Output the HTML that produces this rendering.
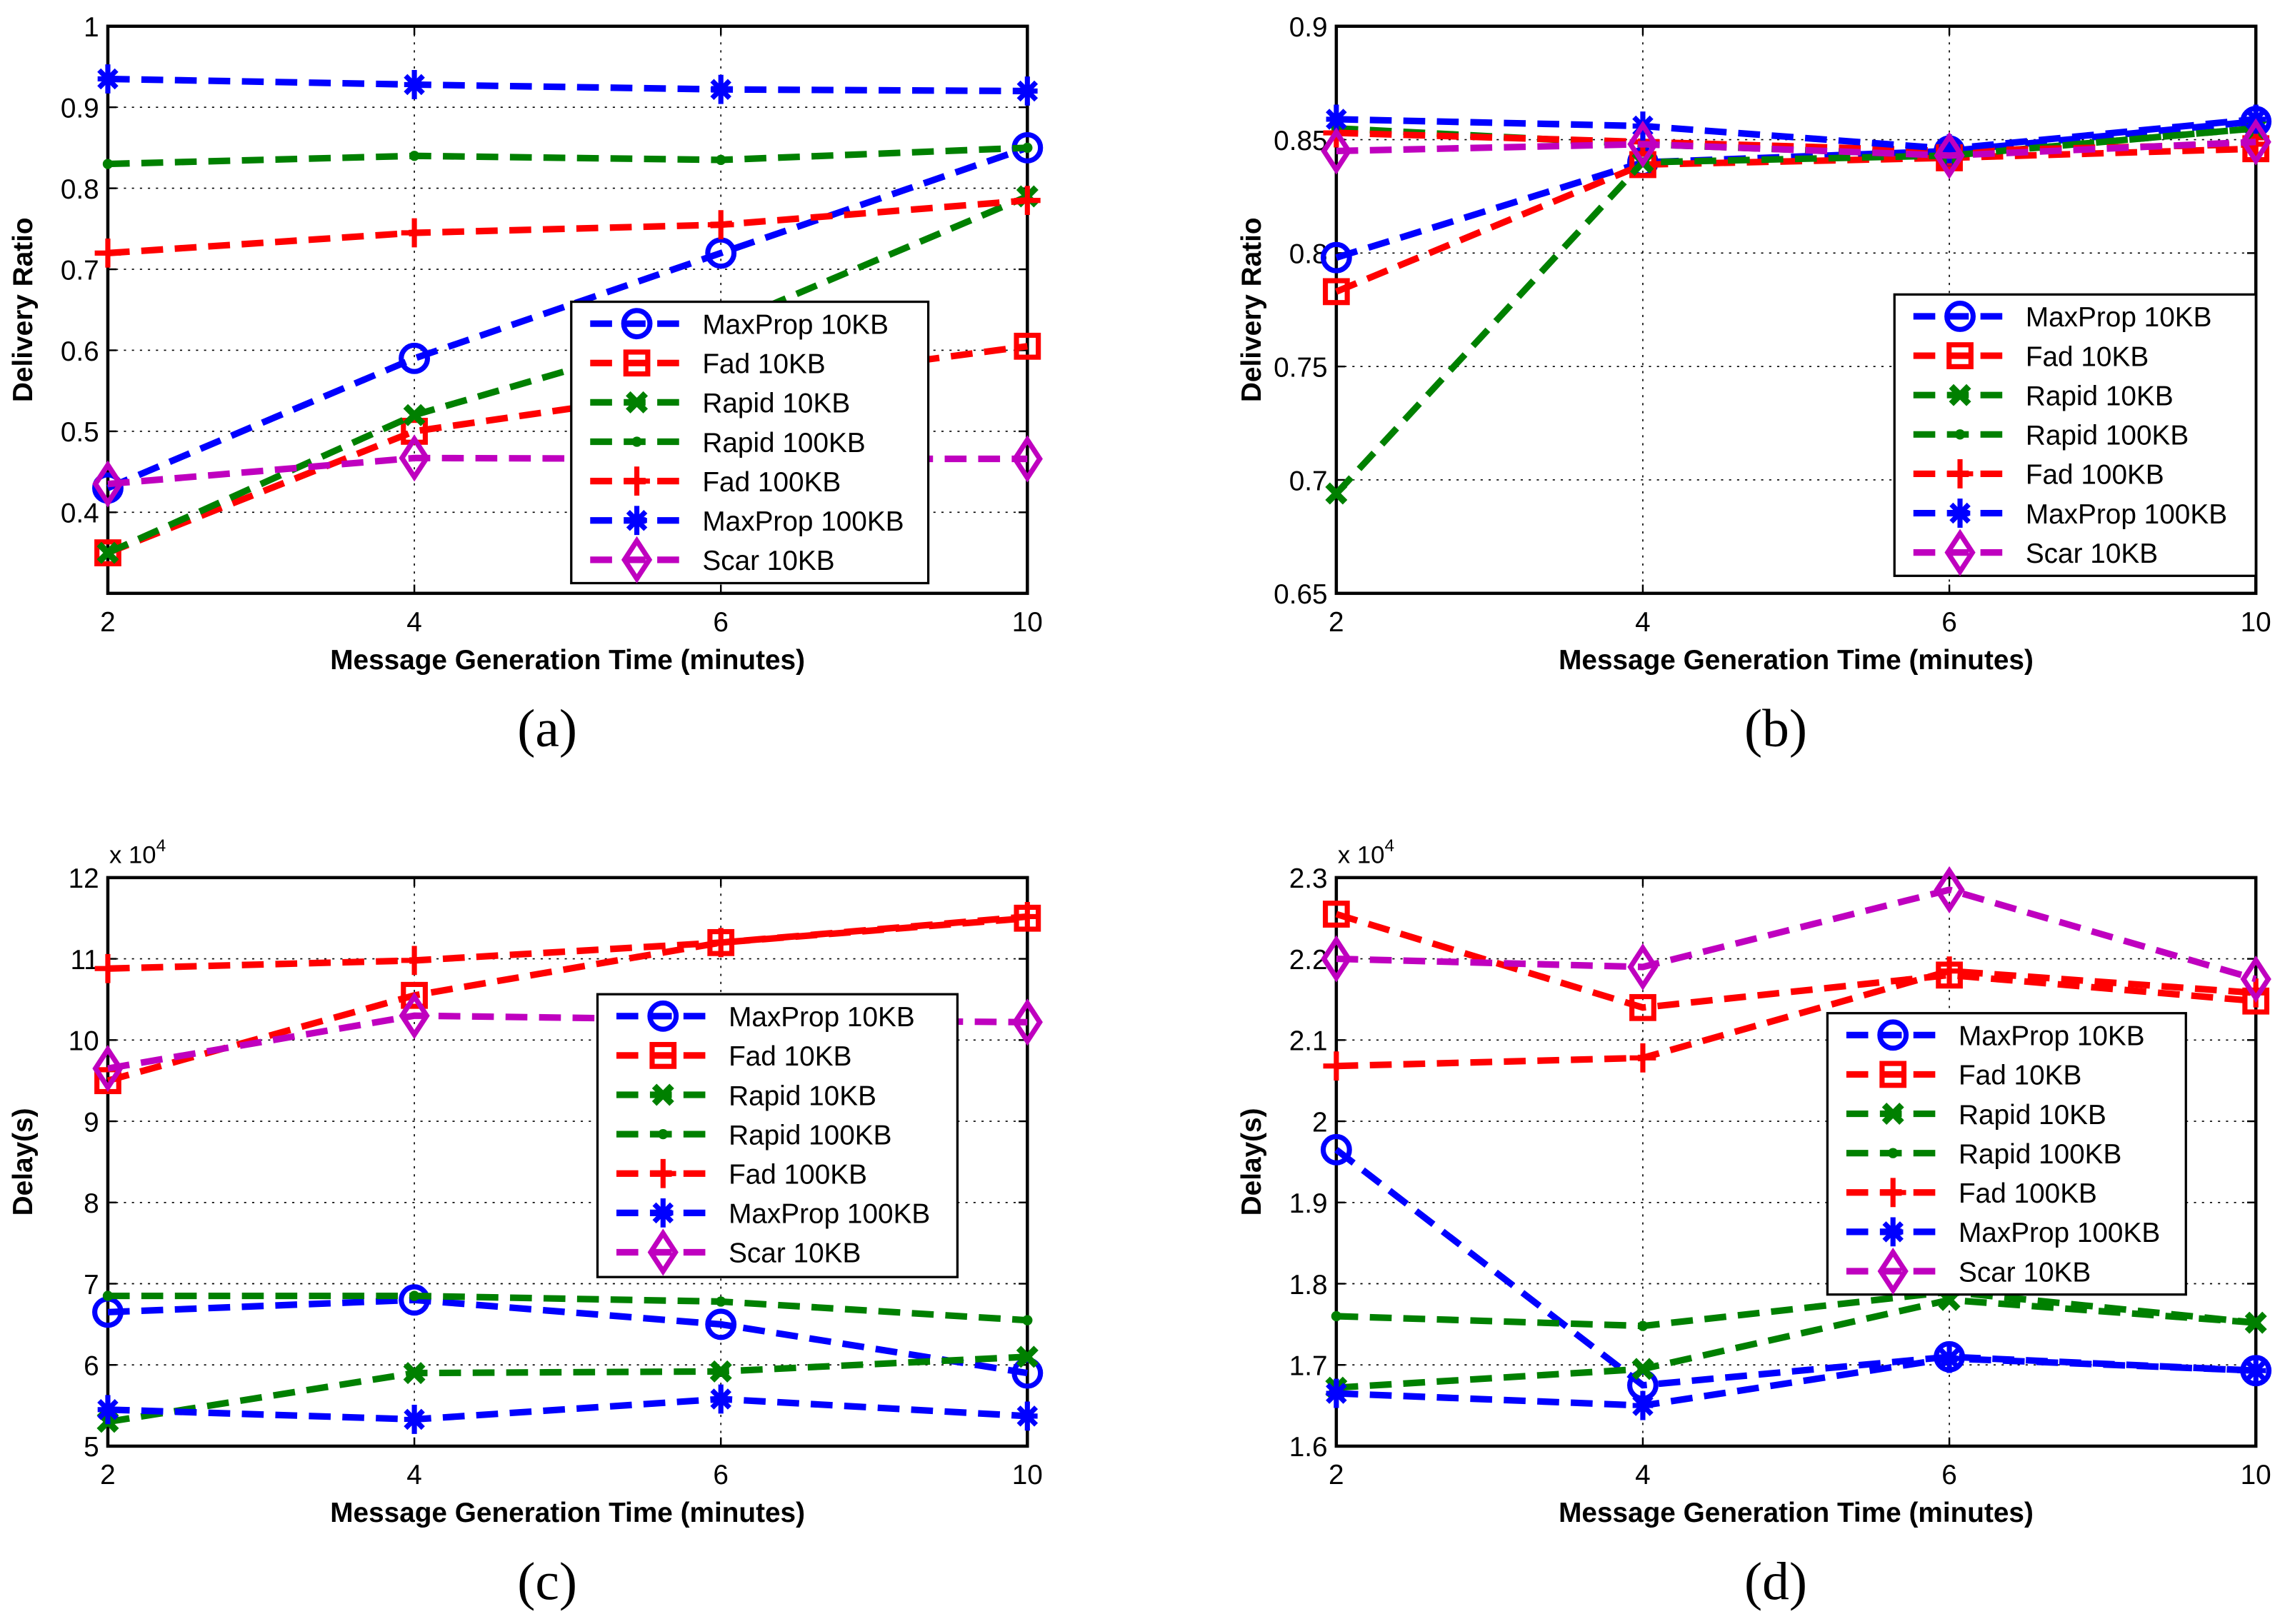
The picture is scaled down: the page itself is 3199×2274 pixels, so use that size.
<!DOCTYPE html>
<html><head><meta charset="utf-8"><style>
html,body{margin:0;padding:0;background:#fff;}
svg{display:block;}
text{font-family:"Liberation Sans",sans-serif;}
</style></head><body>
<svg id="fig" width="3199" height="2274" viewBox="0 0 1568 1114" preserveAspectRatio="none" xmlns="http://www.w3.org/2000/svg"></svg>
<script>
const categories = ["2","4","6","10"];
const seriesNames = ["MaxProp 10KB","Fad 10KB","Rapid 10KB","Rapid 100KB","Fad 100KB","MaxProp 100KB","Scar 10KB"];
const seriesColors = ["#0000ff","#ff0000","#008000","#008000","#ff0000","#0000ff","#bf00bf"];
const seriesMarkers = ["circle","square","x","dot","plus","star","diamond"];
// panel a: delivery ratio
const aMaxProp10 = [0.43,0.59,0.72,0.85];
const aFad10 = [0.35,0.50,0.555,0.605];
const aRapid10 = [0.35,0.52,0.63,0.79];
const aRapid100 = [0.83,0.84,0.835,0.85];
const aFad100 = [0.72,0.745,0.755,0.785];
const aMaxProp100 = [0.935,0.928,0.922,0.92];
const aScar10 = [0.435,0.467,0.466,0.466];
const aTicks = ["0.4","0.5","0.6","0.7","0.8","0.9","1"];
// panel b
const bMaxProp10 = [0.798,0.840,0.845,0.858];
const bFad10 = [0.783,0.839,0.842,0.846];
const bRapid10 = [0.694,0.840,0.843,0.855];
const bRapid100 = [0.855,0.848,0.843,0.855];
const bFad100 = [0.853,0.849,0.845,0.848];
const bMaxProp100 = [0.859,0.856,0.846,0.859];
const bScar10 = [0.845,0.848,0.843,0.849];
const bTicks = ["0.65","0.7","0.75","0.8","0.85","0.9"];
// panel c (x10^4)
const cMaxProp10 = [6.65,6.8,6.5,5.9];
const cFad10 = [9.5,10.55,11.2,11.5];
const cRapid10 = [5.3,5.9,5.92,6.1];
const cRapid100 = [6.85,6.85,6.78,6.55];
const cFad100 = [10.88,10.98,11.2,11.52];
const cMaxProp100 = [5.45,5.33,5.58,5.37];
const cScar10 = [9.65,10.3,10.25,10.22];
const cTicks = ["5","6","7","8","9","10","11","12"];
// panel d (x10^4)
const dMaxProp10 = [1.965,1.675,1.71,1.693];
const dFad10 = [2.255,2.14,2.18,2.148];
const dRapid10 = [1.672,1.695,1.78,1.752];
const dRapid100 = [1.76,1.748,1.79,1.752];
const dFad100 = [2.068,2.078,2.185,2.158];
const dMaxProp100 = [1.665,1.65,1.708,1.693];
const dScar10 = [2.2,2.19,2.285,2.175];
const dTicks = ["1.6","1.7","1.8","1.9","2","2.1","2.2","2.3"];

const NS="http://www.w3.org/2000/svg";
const svg=document.getElementById('fig');
function mk(tag,attrs,parent){const e=document.createElementNS(NS,tag);for(const k in attrs)e.setAttribute(k,attrs[k]);(parent||svg).appendChild(e);return e;}

function marker(g,type,x,y,color){
  const sw=3.5;
  if(type==="circle"){mk('circle',{cx:x,cy:y,r:9,fill:'none',stroke:color,'stroke-width':sw},g);}
  else if(type==="square"){mk('rect',{x:x-7.5,y:y-7.5,width:15,height:15,fill:'none',stroke:color,'stroke-width':sw},g);}
  else if(type==="x"){mk('path',{d:`M${x-6} ${y-6}L${x+6} ${y+6}M${x-6} ${y+6}L${x+6} ${y-6}`,stroke:color,'stroke-width':4.5},g);}
  else if(type==="dot"){mk('circle',{cx:x,cy:y,r:3.5,fill:color},g);}
  else if(type==="plus"){mk('path',{d:`M${x-9} ${y}L${x+9} ${y}M${x} ${y-10}L${x} ${y+10}`,stroke:color,'stroke-width':sw},g);}
  else if(type==="star"){mk('path',{d:`M${x-7} ${y}L${x+7} ${y}M${x} ${y-10}L${x} ${y+10}M${x-6} ${y-6}L${x+6} ${y+6}M${x-6} ${y+6}L${x+6} ${y-6}`,stroke:color,'stroke-width':sw},g);}
  else if(type==="diamond"){mk('path',{d:`M${x} ${y-13}L${x+8.5} ${y}L${x} ${y+13}L${x-8.5} ${y}Z`,fill:'none',stroke:color,'stroke-width':sw},g);}
}

function panel(cfg){
  const {id,L,R,T,B,ymin,ymax,ticks,series,ylabel,legend,caption,exp}=cfg;
  const g=mk('g',{});
  
  
  const xs=i=>L+(R-L)*i/(categories.length-1);
  const ys=v=>B-(B-T)*(v-ymin)/(ymax-ymin);
  categories.forEach((c,i)=>{
    const x=xs(i);
    if(i>0&&i<categories.length-1)mk('line',{x1:x,y1:T,x2:x,y2:B,stroke:'#000','stroke-width':0.8,'stroke-dasharray':'1.5 4'},g);
    mk('line',{x1:x,y1:B,x2:x,y2:B-6,stroke:'#000','stroke-width':1.2},g);
    mk('line',{x1:x,y1:T,x2:x,y2:T+6,stroke:'#000','stroke-width':1.2},g);
    const t=mk('text',{x:x,y:B+26,'font-size':19,'text-anchor':'middle'},g);
    t.textContent=c;
    
    
  });
  ticks.forEach(tk=>{
    const v=parseFloat(tk),y=ys(v);
    if(v>ymin&&v<ymax)mk('line',{x1:L,y1:y,x2:R,y2:y,stroke:'#000','stroke-width':0.8,'stroke-dasharray':'1.5 4'},g);
    mk('line',{x1:L,y1:y,x2:L+6,y2:y,stroke:'#000','stroke-width':1.2},g);
    mk('line',{x1:R,y1:y,x2:R-6,y2:y,stroke:'#000','stroke-width':1.2},g);
    const t=mk('text',{x:L-6,y:y+7,'font-size':19,'text-anchor':'end'},g);
    t.textContent=tk;
    
    
  });
  mk('rect',{x:L,y:T,width:R-L,height:B-T,fill:'none',stroke:'#000','stroke-width':2.2},g);
  if(exp){
    const t=mk('text',{x:L+1,y:T-10,'font-size':17},g);
    t.innerHTML='x 10<tspan dy="-8" font-size="12">4</tspan>';
    
    
  }
  series.forEach((vals,si)=>{
    const sg=mk('g',{},g);
    
    
    const pts=vals.map((v,i)=>xs(i)+','+ys(v)).join(' ');
    mk('polyline',{points:pts,fill:'none',stroke:seriesColors[si],'stroke-width':4.5,'stroke-dasharray':'15 8'},sg);
    vals.forEach((v,i)=>marker(sg,seriesMarkers[si],xs(i),ys(v),seriesColors[si]));
  });
  const lg=mk('g',{},g);
  
  
  mk('rect',{x:legend.x,y:legend.y,width:legend.w,height:legend.h,fill:'#fff',stroke:'#000','stroke-width':1.6},lg);
  seriesNames.forEach((n,si)=>{
    const y=legend.y+15+si*27;
    const e=mk('g',{},lg);
    
    
    mk('line',{x1:legend.x+13,y1:y,x2:legend.x+78,y2:y,stroke:seriesColors[si],'stroke-width':4.5,'stroke-dasharray':'15 8'},e);
    marker(e,seriesMarkers[si],legend.x+45,y,seriesColors[si]);
    const t=mk('text',{x:legend.x+90,y:y+7,'font-size':19},e);
    t.textContent=n;
  });
  const xl=mk('text',{x:(L+R)/2,y:B+52,'font-size':19,'font-weight':'bold','text-anchor':'middle'},g);
  xl.textContent='Message Generation Time (minutes)';
  
  
  const yl=mk('text',{x:0,y:0,'font-size':19,'font-weight':'bold','text-anchor':'middle',transform:`translate(${L-52},${(T+B)/2}) rotate(-90)`},g);
  yl.textContent=ylabel;
  
  
  const cp=mk('text',{x:(L+R)/2-14,y:B+105,'font-size':37,'text-anchor':'middle'},g);
  cp.setAttribute('style','font-family:"Liberation Serif",serif');
  cp.textContent=caption;
  
  
}

panel({id:'panel-a',L:74,R:705,T:18,B:407,ymin:0.3,ymax:1,ticks:aTicks,
  series:[aMaxProp10,aFad10,aRapid10,aRapid100,aFad100,aMaxProp100,aScar10],
  ylabel:'Delivery Ratio',legend:{x:392,y:207,w:245,h:193},caption:'(a)'});
panel({id:'panel-b',L:917,R:1548,T:18,B:407,ymin:0.65,ymax:0.9,ticks:bTicks,
  series:[bMaxProp10,bFad10,bRapid10,bRapid100,bFad100,bMaxProp100,bScar10],
  ylabel:'Delivery Ratio',legend:{x:1300,y:202,w:248,h:193},caption:'(b)'});
panel({id:'panel-c',L:74,R:705,T:602,B:992,ymin:5,ymax:12,ticks:cTicks,exp:true,
  series:[cMaxProp10,cFad10,cRapid10,cRapid100,cFad100,cMaxProp100,cScar10],
  ylabel:'Delay(s)',legend:{x:410,y:682,w:247,h:194},caption:'(c)'});
panel({id:'panel-d',L:917,R:1548,T:602,B:992,ymin:1.6,ymax:2.3,ticks:dTicks,exp:true,
  series:[dMaxProp10,dFad10,dRapid10,dRapid100,dFad100,dMaxProp100,dScar10],
  ylabel:'Delay(s)',legend:{x:1254,y:695,w:246,h:193},caption:'(d)'});
</script>
</body></html>
